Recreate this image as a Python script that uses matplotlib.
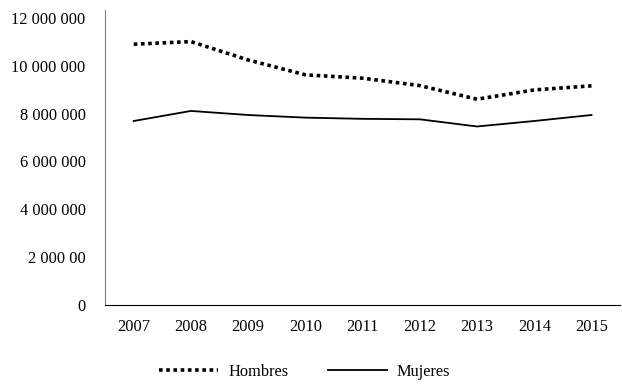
import matplotlib
matplotlib.use('Agg')
import matplotlib.pyplot as plt

years = ['2007', '2008', '2009', '2010', '2011', '2012', '2013', '2014', '2015']
hombres = [10900000, 11010000, 10240000, 9620000, 9480000, 9170000, 8600000, 8990000, 9160000]
mujeres = [7690000, 8110000, 7940000, 7830000, 7780000, 7760000, 7460000, 7690000, 7940000]
yticks = [0, 2000000, 4000000, 6000000, 8000000, 10000000, 12000000]
ytick_labels = ['0', '2 000 00', '4 000 000', '6 000 000', '8 000 000', '10 000 000', '12 000 000']

plt.rcParams['font.family'] = ['Liberation Serif', 'DejaVu Serif']
plt.rcParams['font.size'] = 11.8

fig = plt.figure(figsize=(6.22, 3.85), dpi=100)
ax = fig.add_axes([0.169, 0.208, 0.828, 0.766])

x = range(len(years))
ax.plot(x, hombres, color='black', lw=2.6, linestyle=(0, (1, 1.0)), label='Hombres')
ax.plot(x, mujeres, color='black', lw=1.3, label='Mujeres')

ax.set_xlim(-0.5, len(years) - 0.5)
ax.set_ylim(0, 12330000)
ax.set_xticks(list(x))
ax.set_xticklabels(years)
ax.set_yticks(yticks)
ax.set_yticklabels(ytick_labels)
ax.tick_params(axis='both', length=0)
ax.tick_params(axis='y', pad=14)
ax.tick_params(axis='x', pad=10)

ax.spines['top'].set_visible(False)
ax.spines['right'].set_visible(False)
ax.spines['left'].set_color('#808080')
ax.spines['bottom'].set_color('black')

fig.legend(loc='lower center', bbox_to_anchor=(0.49, -0.025), ncol=2, frameon=False,
           handlelength=3.6, columnspacing=2.4, handletextpad=0.6)

fig.savefig('out.png', dpi=100)
